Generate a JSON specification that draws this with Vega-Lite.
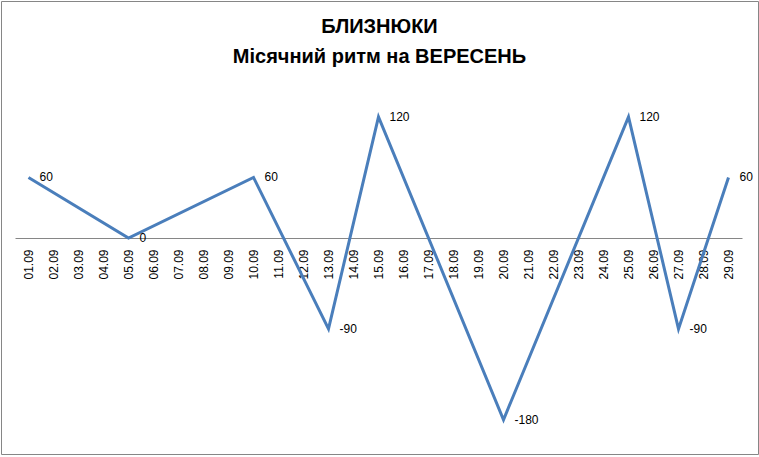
{
  "$schema": "https://vega.github.io/schema/vega-lite/v6.json",
  "width": 757,
  "height": 453,
  "autosize": {"type": "none"},
  "padding": {"left": 1, "top": 1, "right": 1, "bottom": 3},
  "background": "white",
  "config": {
    "view": {"stroke": "#868686", "strokeWidth": 1},
    "font": "Liberation Sans"
  },
  "title": {
    "text": ["БЛИЗНЮКИ", "Місячний ритм на ВЕРЕСЕНЬ"],
    "anchor": "middle",
    "frame": "group",
    "font": "Liberation Sans",
    "fontSize": 20,
    "fontWeight": "bold",
    "color": "black",
    "lineHeight": 30,
    "offset": -66
  },
  "data": {
    "values": [
      {"date": "01.09", "value": 60},
      {"date": "05.09", "value": 0},
      {"date": "10.09", "value": 60},
      {"date": "13.09", "value": -90},
      {"date": "15.09", "value": 120},
      {"date": "20.09", "value": -180},
      {"date": "25.09", "value": 120},
      {"date": "27.09", "value": -90},
      {"date": "29.09", "value": 60}
    ]
  },
  "encoding": {
    "x": {
      "field": "date",
      "type": "ordinal",
      "sort": null,
      "scale": {
        "type": "point",
        "domain": ["01.09","02.09","03.09","04.09","05.09","06.09","07.09","08.09","09.09","10.09","11.09","12.09","13.09","14.09","15.09","16.09","17.09","18.09","19.09","20.09","21.09","22.09","23.09","24.09","25.09","26.09","27.09","28.09","29.09"],
        "range": [14, 741],
        "padding": 0.54
      },
      "axis": {
        "title": null,
        "orient": "bottom",
        "offset": -216,
        "labelAngle": 270,
        "labelFontSize": 12,
        "labelColor": "black",
        "labelFont": "Liberation Sans",
        "labelPadding": 11,
        "labelOverlap": false,
        "ticks": false,
        "grid": false,
        "domainColor": "#868686",
        "domainWidth": 1
      }
    },
    "y": {
      "field": "value",
      "type": "quantitative",
      "scale": {"domain": [-213.9, 234.7], "nice": false, "zero": false},
      "axis": null
    }
  },
  "layer": [
    {"mark": {"type": "line", "color": "#4A7EBB", "strokeWidth": 3}},
    {
      "mark": {"type": "text", "align": "left", "baseline": "middle", "dx": 11, "fontSize": 12, "color": "black"},
      "encoding": {"text": {"field": "value", "type": "nominal"}}
    }
  ]
}
